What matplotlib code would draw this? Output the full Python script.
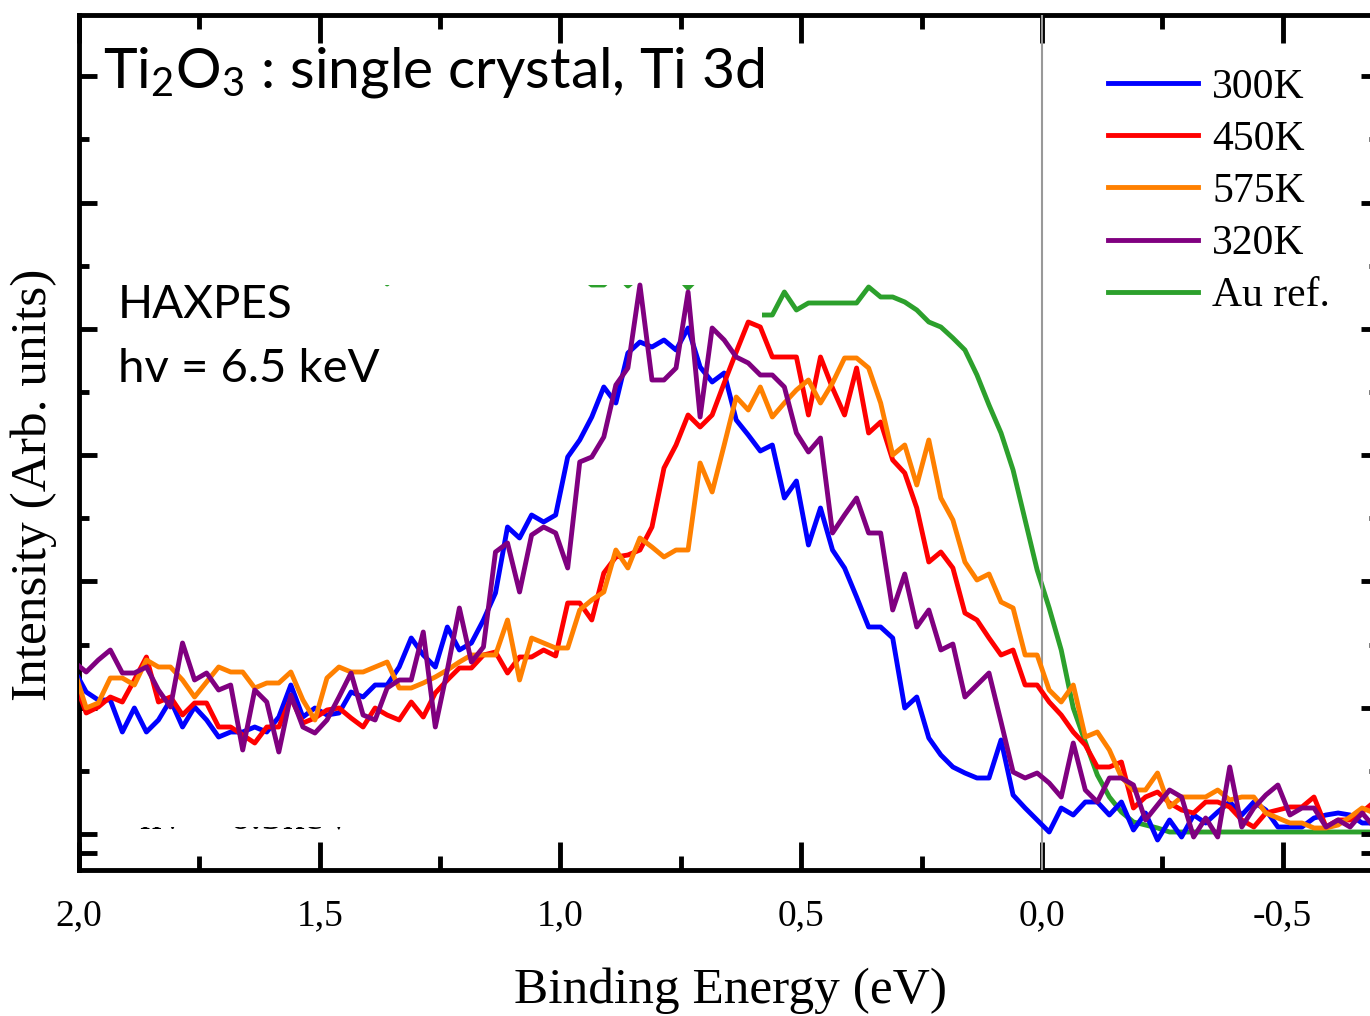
import numpy as np
import matplotlib
matplotlib.use("Agg")
import matplotlib.pyplot as plt
from matplotlib.ticker import FixedLocator, FuncFormatter
from matplotlib.patches import Polygon, Rectangle

plt.rcParams['mathtext.fontset'] = 'custom'
plt.rcParams['mathtext.rm'] = 'Lato'
plt.rcParams['mathtext.default'] = 'rm'

# binding energy grid (eV), 25 meV steps
energy = np.round(2.01 - 0.025 * np.arange(110), 3)

# intensities, arb. units
i_300K = [164, 142, 134, 134, 102, 126, 102, 114, 134, 107, 127, 114, 97, 102, 102, 107, 102, 117, 149, 117,
          126, 119, 121, 142, 137, 149, 149, 167, 196, 179, 167, 207, 184, 191, 214, 241, 307, 296, 319, 312,
          319, 377, 394, 417, 447, 431, 481, 492, 487, 494, 484, 506, 467, 452, 461, 414, 399, 383, 389, 336,
          353, 289, 326, 284, 266, 237, 207, 207, 196, 126, 137, 96, 79, 67, 61, 56, 56, 94, 39, 26,
          14, 2, 26, 19, 32, 32, 19, 32, 4, 21, -6, 14, -3, 19, 11, 22, 32, 19, 32, 24,
          7, 7, 7, 16, 19, 21, 19, 11, 11, 11]
i_450K = [154, 121, 127, 137, 132, 154, 177, 132, 137, 119, 131, 131, 107, 107, 99, 91, 107, 107, 136, 111,
          116, 124, 126, 116, 107, 126, 119, 114, 132, 117, 141, 154, 166, 166, 179, 182, 161, 177, 177, 184,
          178, 231, 231, 214, 261, 277, 279, 284, 307, 366, 389, 419, 407, 419, 451, 482, 512, 507, 477, 477,
          477, 419, 477, 446, 419, 466, 401, 412, 374, 361, 326, 272, 282, 266, 221, 214, 196, 179, 184, 149,
          149, 132, 119, 102, 89, 67, 67, 72, 26, 37, 42, 31, 24, 21, 32, 32, 27, 14, 7, 21,
          24, 27, 27, 37, 7, 14, 14, 22, 32, 34]
i_575K = [164, 126, 131, 156, 156, 149, 174, 167, 167, 154, 137, 152, 167, 162, 162, 146, 151, 151, 162, 134,
          114, 156, 167, 162, 162, 167, 172, 146, 146, 151, 157, 164, 172, 179, 179, 179, 214, 154, 196, 191,
          186, 186, 224, 234, 242, 284, 266, 296, 287, 277, 284, 284, 371, 342, 389, 437, 424, 447, 417, 431,
          444, 454, 431, 451, 476, 476, 466, 431, 379, 389, 349, 394, 336, 314, 272, 254, 260, 232, 226, 179,
          179, 144, 132, 149, 97, 102, 84, 57, 44, 44, 61, 27, 37, 37, 37, 44, 34, 37, 37, 21,
          16, 11, 11, 6, 6, 9, 17, 26, 21, 19]
i_320K = [172, 162, 174, 184, 161, 161, 167, 144, 127, 191, 154, 161, 144, 149, 84, 144, 132, 82, 139, 107,
          101, 114, 137, 161, 119, 114, 146, 154, 154, 202, 107, 164, 226, 172, 187, 282, 291, 242, 299, 307,
          301, 266, 372, 377, 397, 449, 466, 549, 454, 454, 466, 542, 417, 506, 494, 477, 471, 459, 459, 447,
          401, 382, 396, 301, 319, 336, 301, 301, 224, 260, 207, 224, 184, 190, 137, 149, 161, 112, 62, 56,
          61, 51, 37, 91, 44, 32, 56, 56, 49, 14, 29, 44, 37, -3, 16, -3, 67, 7, 26, 39,
          49, 19, 26, 26, 7, 14, 7, 21, 7, 14]
i_au = [566, 569, 564, 568, 562, 566, 570, 564, 567, 561, 565, 569, 563, 566, 568, 562, 564, 567, 570, 565,
        563, 568, 564, 566, 561, 564, 550, 563, 567, 562, 565, 568, 564, 560, 566, 563, 567, 564, 561, 565,
        562, 566, 559, 549, 549, 560, 548, 558, 562, 556, 559, 546, 558, 555, 559, 554, 556, 519, 519, 542,
        524, 531, 531, 531, 531, 531, 547, 537, 537, 532, 524, 512, 507, 496, 484, 459, 429, 401, 364, 314,
        264, 226, 184, 126, 92, 59, 37, 22, 12, 9, 6, 2, 2, 2, 2, 2, 2, 2, 2, 2,
        2, 2, 2, 2, 2, 2, 2, 2, 2, 2]

series = [("300K", i_300K, "#0000ff"),
          ("450K", i_450K, "#ff0000"),
          ("575K", i_575K, "#ff8000"),
          ("320K", i_320K, "#800080")]

xticks = [2.0, 1.5, 1.0, 0.5, 0.0, -0.5]
serif = "Liberation Serif"
sans = "Lato"

fig = plt.figure(figsize=(13.7, 10.16), dpi=100)
ax = fig.add_axes([79 / 1370, 146 / 1016, 1300 / 1370, 855 / 1016])

# Au reference sits under a blank panel in the upper left (ticks stay on top)
au_line, = ax.plot(energy, i_au, color="#2ca02c", lw=3.5, zorder=1.2, label="Au ref.")
cover = Polygon([(2.1, 900), (0.582, 900), (0.582, 516), (0.70, 516), (0.70, 549), (2.1, 549)],
                closed=True, facecolor="white", edgecolor="none", zorder=1.3)
ax.add_patch(cover)

# leftover caption near the baseline, mostly blanked out
ax.text(1.873, 4, "hv = 6.5keV", fontsize=31, family=serif, va="baseline", ha="left", zorder=1.0)
ax.add_patch(Rectangle((1.92, 7), -0.57, 60, facecolor="white", edgecolor="none", zorder=1.1))

handles = []
for name, vals, col in series:
    h, = ax.plot(energy, vals, color=col, lw=3.5, zorder=3, label=name)
    handles.append(h)
handles.append(au_line)

ax.axvline(0.0, color="#999999", lw=1.5, zorder=2.6)

ax.set_xlim(2.0, -0.7)
ax.set_ylim(-36, 819)

ax.xaxis.set_major_locator(FixedLocator(xticks))
ax.xaxis.set_minor_locator(FixedLocator([1.75, 1.25, 0.75, 0.25, -0.25]))
ax.xaxis.set_major_formatter(FuncFormatter(lambda v, p: f"{v:.1f}".replace(".", ",")))
ax.yaxis.set_major_locator(FixedLocator([-19] + list(np.arange(0, 800, 126.3))))
ax.yaxis.set_minor_locator(FixedLocator(np.arange(63.15, 800, 126.3)))

ax.tick_params(which="both", direction="in", top=True, right=True, labelleft=False, width=3.5)
ax.tick_params(axis="x", which="major", length=20, pad=21, labelsize=27)
ax.tick_params(axis="x", which="minor", length=10)
ax.tick_params(axis="y", which="major", length=13)
ax.tick_params(axis="y", which="minor", length=7)
for lab in ax.get_xticklabels():
    lab.set_family(serif)
for sp in ax.spines.values():
    sp.set_linewidth(3.5)

ax.set_xlabel("Binding Energy (eV)", fontsize=37, family=serif)
ax.xaxis.set_label_coords(0.5008, -0.114)
ax.set_ylabel("Intensity (Arb. units)", fontsize=37, family=serif)
ax.yaxis.set_label_coords(-0.017, 0.45)

fig.text(103 / 1370, 1 - 88 / 1016, "Ti$_2$O$_3$ : single crystal, Ti 3d", fontsize=41,
         family=sans, va="baseline", ha="left")
fig.text(118 / 1370, 1 - 318 / 1016, "HAXPES", fontsize=33, family=sans, va="baseline", ha="left")
fig.text(118 / 1370, 1 - 382 / 1016, "hv = 6.5 keV", fontsize=34, family=sans, va="baseline", ha="left")

ax.legend(handles, [h.get_label() for h in handles], loc="upper left",
          bbox_to_anchor=(1108 / 1370, 1 - 68 / 1016), bbox_transform=fig.transFigure,
          frameon=False, prop={"family": serif, "size": 30}, handlelength=2.16,
          handletextpad=0.34, labelspacing=0.33, borderpad=0, borderaxespad=0)

fig.savefig("out.png", dpi=100)
